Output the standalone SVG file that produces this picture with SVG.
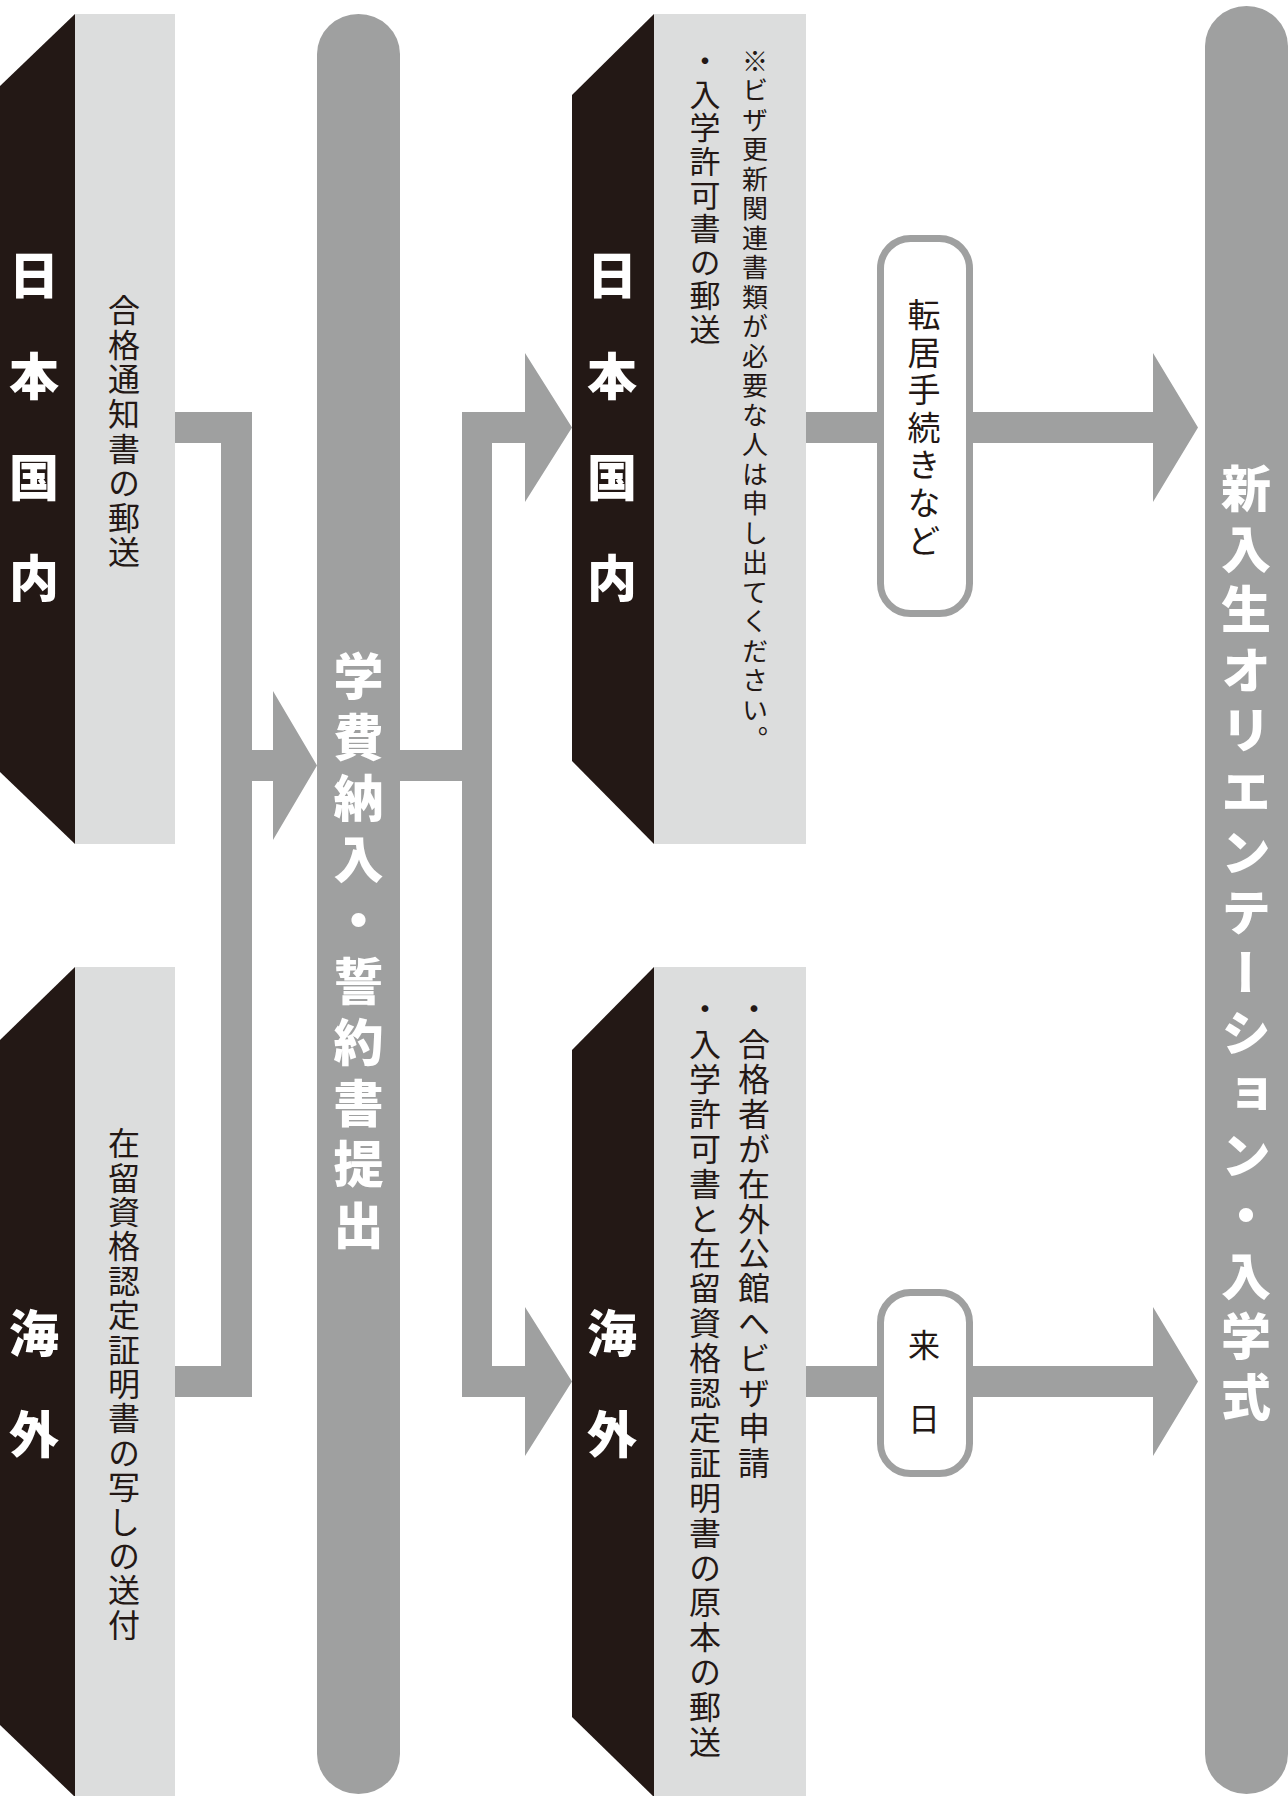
<svg xmlns="http://www.w3.org/2000/svg" width="1288" height="1796" viewBox="0 0 1288 1796">
<style>
.blk{fill:#231815}
.lite{fill:#dcdddd}
.gray{fill:#9fa0a0}
.pill{fill:#ffffff;stroke:#9fa0a0;stroke-width:7}
text{font-family:"Noto Sans CJK JP","Noto Sans CJK SC",sans-serif;writing-mode:vertical-rl;text-orientation:upright}
.big{fill:#ffffff;font-weight:900;font-size:50px;letter-spacing:11px}
.lab{fill:#ffffff;font-weight:900;font-size:50px;letter-spacing:51px}
.body{fill:#231815;font-weight:400;font-size:32px}
.note{fill:#231815;font-weight:400;font-size:26px;letter-spacing:3.5px}
</style>
<rect width="1288" height="1796" fill="#ffffff"/>
<g id="connectors">
<path class="gray" d="M175,412 H252 V1397 H175 V1366 H221 V443 H175 Z"/>
<path class="gray" d="M252,750 H273 V691 L317,765.5 L273,840 V781 H252 Z"/>
<path class="gray" d="M400,750 H462 V412 H525 V353 L572,427.5 L525,502 V443 H492 V1366 H525 V1307 L572,1381.5 L525,1456 V1397 H462 V781 H400 Z"/>
<path class="gray" d="M806,412 H1153 V353 L1198,427.5 L1153,502 V443 H806 Z"/>
<path class="gray" d="M806,1366 H1153 V1307 L1198,1381.5 L1153,1456 V1397 H806 Z"/>
</g>
<g id="jp-left">
<polygon class="blk" points="0,86 75,14 75,844 0,772"/>
<rect class="lite" x="75" y="14" width="100" height="830"/>
<text class="lab" x="34" y="250">日本国内</text>
<text class="body" x="124" y="294" style="letter-spacing:2.6px">合格通知書の郵送</text>
</g>
<g id="abroad-left">
<polygon class="blk" points="0,1040 75,967 75,1797 0,1725"/>
<rect class="lite" x="75" y="967" width="100" height="829"/>
<text class="lab" x="34" y="1308">海外</text>
<text class="body" x="124" y="1127" style="letter-spacing:2.4px">在留資格認定証明書の写しの送付</text>
</g>
<g id="tuition">
<rect class="gray" x="317" y="14" width="83" height="1780" rx="41.5" ry="40"/>
<text class="big" x="358.5" y="651">学費納入・誓約書提出</text>
</g>
<g id="jp-mid">
<polygon class="blk" points="572,95 654,14 654,844 572,761"/>
<rect class="lite" x="654" y="14" width="152" height="830"/>
<text class="lab" x="612" y="250">日本国内</text>
<text class="note" x="755" y="48">※ビザ更新関連書類が必要な人は申し出てください。</text>
<text class="body" x="705" y="45" style="font-size:31px;letter-spacing:2.6px">・入学許可書の郵送</text>
</g>
<g id="abroad-mid">
<polygon class="blk" points="572,1050 654,967 654,1797 572,1717"/>
<rect class="lite" x="654" y="967" width="152" height="829"/>
<text class="lab" x="612" y="1308">海外</text>
<text class="body" x="754" y="993" style="letter-spacing:2.9px">・合格者が在外公館へビザ申請</text>
<text class="body" x="705" y="993" style="letter-spacing:2.9px">・入学許可書と在留資格認定証明書の原本の郵送</text>
</g>
<g id="moving">
<rect class="pill" x="880.5" y="238.5" width="89" height="375" rx="30" ry="30"/>
<text class="body" x="924" y="298" style="font-size:33px;letter-spacing:4.6px">転居手続きなど</text>
</g>
<g id="arrival">
<rect class="pill" x="880.5" y="1292.5" width="89" height="181" rx="30" ry="30"/>
<text class="body" x="924" y="1329" style="letter-spacing:42px">来日</text>
</g>
<g id="orientation">
<rect class="gray" x="1205" y="6" width="83" height="1788" rx="41.5" ry="40"/>
<text class="big" x="1246" y="463" style="letter-spacing:10.6px">新入生オリエンテーション・入学式</text>
</g>
</svg>
